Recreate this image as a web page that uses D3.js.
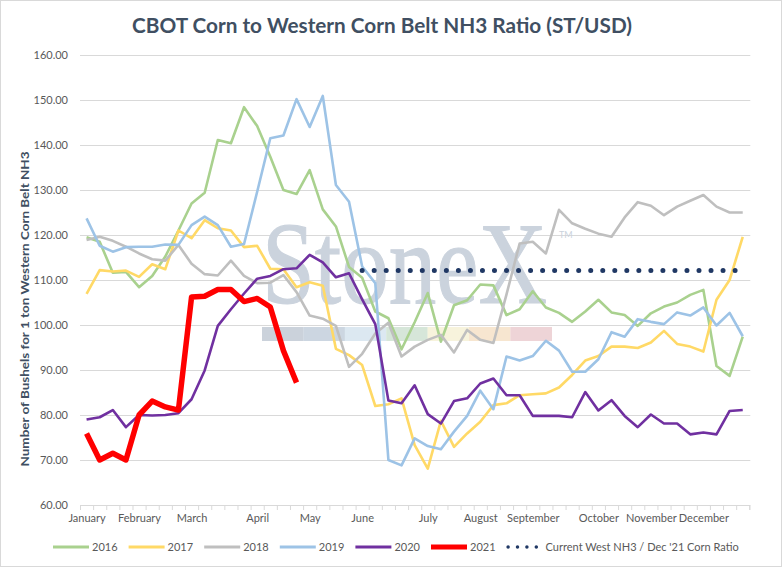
<!DOCTYPE html>
<html>
<head>
<meta charset="utf-8">
<script src="https://cdn.jsdelivr.net/npm/d3@7"></script>
<style>
  body { margin: 0; background: #fff; }
  text { font-family: Lato, "Open Sans", sans-serif; }
</style>
</head>
<body>
<div id="chart"></div>
<script>
// weekly categories, month name shown on the first week of each month
const weekCount = 51;
const months = ["January", "February", "March", "April", "May", "June", "July",
  "August", "September", "October", "November", "December"];
const monthWeek = [0, 4, 8, 13, 17, 21, 26, 30, 34, 39, 43, 47];
const yTickValues = [60, 70, 80, 90, 100, 110, 120, 130, 140, 150, 160];

const s2016 = [119.5, 118.5, 111.6, 111.8, 108.4, 110.9, 115.2, 121.0, 127.0, 129.4,
  141.1, 140.4, 148.4, 144.2, 137.4, 130.0, 129.1, 134.4, 125.7, 121.9,
  112.9, 110.5, 103.0, 101.5, 94.6, 100.6, 107.1, 96.3, 104.4, 105.5,
  109.0, 108.8, 102.2, 103.5, 107.5, 103.9, 102.7, 100.7, 103.0, 105.6,
  102.8, 102.2, 99.8, 102.6, 104.1, 105.0, 106.7, 107.8, 90.9, 88.7, 97.4];
const s2017 = [106.9, 112.2, 111.9, 112.1, 110.7, 113.5, 112.4, 121.0, 119.3, 123.3,
  121.5, 121.0, 117.3, 117.6, 112.5, 112.4, 108.4, 109.5, 108.7, 94.7,
  93.3, 91.1, 82.0, 82.4, 83.7, 73.3, 68.1, 78.7, 72.9, 75.9,
  78.5, 82.2, 82.6, 84.4, 84.6, 84.8, 86.1, 88.9, 92.1, 93.1,
  95.2, 95.2, 94.9, 96.1, 98.7, 95.8, 95.2, 94.1, 105.6, 110.0, 119.6];
const s2018 = [118.9, 119.6, 118.7, 117.4, 115.9, 114.6, 114.3, 117.8, 113.6, 111.3,
  111.0, 114.3, 110.9, 109.3, 109.4, 111.1, 107.3, 102.1, 101.4, 99.8,
  90.7, 93.6, 98.1, 100.5, 93.0, 95.2, 96.7, 97.8, 93.9, 98.9,
  96.7, 96.0, 106.8, 118.1, 118.5, 115.9, 125.6, 122.6, 121.4, 120.3,
  119.6, 123.9, 127.3, 126.5, 124.4, 126.3, 127.6, 128.9, 126.3, 125.0, 125.0];
const s2019 = [123.7, 117.6, 116.3, 117.3, 117.4, 117.4, 117.9, 117.8, 122.2, 124.1,
  122.2, 117.4, 118.0, 129.6, 141.5, 142.1, 150.2, 144.0, 150.9, 131.1,
  127.4, 113.0, 109.3, 70.0, 68.8, 74.8, 73.1, 72.4, 76.3, 79.8,
  85.4, 81.3, 93.0, 92.1, 93.1, 96.5, 94.3, 89.6, 89.6, 92.4,
  98.4, 97.4, 101.3, 100.7, 100.2, 102.8, 102.1, 103.9, 99.9, 102.7, 97.5];
const s2020 = [79.0, 79.5, 81.1, 77.3, 80.0, 79.9, 80.0, 80.4, 83.5, 89.9,
  99.8, 103.5, 107.0, 110.3, 110.9, 112.4, 112.6, 115.6, 113.9, 110.6,
  111.5, 105.7, 100.2, 83.2, 82.6, 86.6, 80.2, 78.1, 83.1, 83.7,
  87.0, 88.1, 84.4, 84.4, 79.8, 79.8, 79.8, 79.5, 85.1, 81.0,
  83.3, 79.8, 77.3, 80.1, 78.1, 78.1, 75.7, 76.1, 75.7, 80.9, 81.1];
const s2021 = [75.9, 70.0, 71.5, 70.0, 80.0, 83.1, 81.8, 81.1, 106.2, 106.4,
  107.9, 107.9, 105.2, 105.9, 104.0, 94.3, 87.2];
// current West NH3 / Dec '21 corn ratio, flat from week 21 on
const ratioStart = 21;
const ratioValue = 112.1;

const years = ["2016", "2017", "2018", "2019", "2020", "2021"];
const colors = ["#A9D18E", "#FFD966", "#BFBFBF", "#9DC3E6", "#7030A0", "#FF0000"];
const seriesData = [s2016, s2017, s2018, s2019, s2020, s2021];
const ratioData = d3.range(weekCount).map(i => i >= ratioStart ? ratioValue : null);

const width = 782;
const height = 568;
const plotLeft = 80, plotRight = 749.3, plotTop = 55, plotBottom = 505;
const textColor = "#595959";
const titleColor = "#404F62";

const svg = d3.select("#chart")
  .append("svg")
  .attr("width", width)
  .attr("height", height);

svg.append("rect")
  .attr("x", 0.5).attr("y", 0.5)
  .attr("width", width - 1).attr("height", height - 2)
  .attr("fill", "#fff")
  .attr("stroke", "#D9D9D9");

const x = d3.scaleLinear().domain([0, weekCount]).range([plotLeft, plotRight]);
const y = d3.scaleLinear().domain([60, 160]).range([plotBottom, plotTop]);

// gridlines + y labels
const yAxis = d3.axisLeft(y)
  .tickValues(yTickValues)
  .tickFormat(d3.format(".2f"))
  .tickSize(-(plotRight - plotLeft + 1))
  .tickPadding(12);
const gy = svg.append("g")
  .attr("transform", "translate(" + plotLeft + ",0)")
  .call(yAxis);
gy.select(".domain").remove();
gy.selectAll(".tick line").attr("stroke", "#D9D9D9").attr("stroke-width", 1);
gy.selectAll(".tick text")
  .attr("fill", textColor)
  .style("font-size", "11px");

// watermark (logo sits behind the lines), squeezed to the logo width
const wm = svg.append("g");
const wmText = wm.append("text")
  .attr("fill", "#CBD3DD")
  .attr("stroke", "#CBD3DD")
  .attr("stroke-width", 1.2)
  .style("font-family", "'Liberation Serif', serif")
  .style("font-size", "116px")
  .text("StoneX");
const wmScale = 285 / wmText.node().getComputedTextLength();
wmText.attr("transform", "translate(262,303) scale(" + wmScale + ",1)");
wm.append("text")
  .attr("x", 559).attr("y", 238)
  .attr("fill", "#CBD3DD")
  .style("font-size", "9px")
  .text("TM");
const wmColors = ["#CBD2DB", "#CCD6E1", "#DCE8F1", "#D6E6D9", "#F7F3DC", "#F7E6D0", "#EED4D7"];
wm.selectAll("rect.band")
  .data(wmColors)
  .enter().append("rect")
  .attr("class", "band")
  .attr("x", (d, i) => 262 + i * 41.4)
  .attr("y", 327)
  .attr("width", 41.6)
  .attr("height", 14)
  .attr("fill", d => d);

// x axis: tick marks on week boundaries, month names under their first week
const xTicks = d3.axisBottom(x)
  .tickValues(d3.range(weekCount + 1))
  .tickFormat("")
  .tickSize(5);
const gx = svg.append("g")
  .attr("transform", "translate(0," + plotBottom + ")")
  .call(xTicks);
gx.select(".domain").attr("stroke", "#D9D9D9");
gx.selectAll(".tick line").attr("stroke", "#D9D9D9");

const xLabels = d3.axisBottom(x)
  .tickValues(monthWeek.map(w => w + 0.5))
  .tickFormat((d, i) => months[i])
  .tickSize(0)
  .tickPadding(9);
const gxl = svg.append("g")
  .attr("transform", "translate(0," + plotBottom + ")")
  .call(xLabels);
gxl.select(".domain").remove();
gxl.selectAll("text").attr("fill", textColor).style("font-size", "11px");

// series
const line = d3.line()
  .defined(d => d != null)
  .x((d, i) => x(i + 0.5))
  .y(d => y(d));

svg.selectAll("path.series")
  .data(seriesData)
  .enter().append("path")
  .attr("class", "series")
  .attr("d", d => line(d))
  .attr("fill", "none")
  .attr("stroke", (d, i) => colors[i])
  .attr("stroke-width", (d, i) => years[i] === "2021" ? 5.5 : 2.6)
  .attr("stroke-linejoin", "round");

svg.append("path")
  .attr("d", line(ratioData))
  .attr("fill", "none")
  .attr("stroke", "#203864")
  .attr("stroke-width", 5)
  .attr("stroke-linecap", "round")
  .attr("stroke-dasharray", "0 12.03");

// title + y label
svg.append("text")
  .attr("x", 382).attr("y", 33)
  .attr("text-anchor", "middle")
  .attr("textLength", 500)
  .attr("lengthAdjust", "spacingAndGlyphs")
  .attr("fill", titleColor)
  .style("font-size", "20px")
  .style("font-weight", "bold")
  .text("CBOT Corn to Western Corn Belt NH3 Ratio (ST/USD)");

svg.append("text")
  .attr("transform", "translate(29,309) rotate(-90)")
  .attr("text-anchor", "middle")
  .attr("textLength", 315)
  .attr("lengthAdjust", "spacingAndGlyphs")
  .attr("fill", titleColor)
  .style("font-size", "11.5px")
  .style("font-weight", "bold")
  .text("Number of Bushels for 1 ton Western Corn Belt NH3");

// legend
const legendY = 547;
const legend = svg.append("g");
const yearItems = legend.selectAll("g.item")
  .data(years)
  .enter().append("g")
  .attr("class", "item")
  .attr("transform", (d, i) => "translate(" + (53 + i * 75.6) + "," + legendY + ")");
yearItems.append("line")
  .attr("x1", 0).attr("x2", 36)
  .attr("stroke", (d, i) => colors[i])
  .attr("stroke-width", d => d === "2021" ? 5 : 3);
yearItems.append("text")
  .attr("x", 39).attr("dy", "0.35em")
  .attr("fill", textColor)
  .style("font-size", "11px")
  .text(d => d);

const ratioItem = legend.append("g")
  .attr("transform", "translate(" + (53 + 6 * 75.6) + "," + legendY + ")");
ratioItem.append("line")
  .attr("x1", 1.5).attr("x2", 30)
  .attr("stroke", "#203864")
  .attr("stroke-width", 3.5)
  .attr("stroke-linecap", "round")
  .attr("stroke-dasharray", "0 9.4");
ratioItem.append("text")
  .attr("x", 39).attr("dy", "0.35em")
  .attr("fill", textColor)
  .style("font-size", "11px")
  .text("Current West NH3 / Dec '21 Corn Ratio");
</script>
</body>
</html>
